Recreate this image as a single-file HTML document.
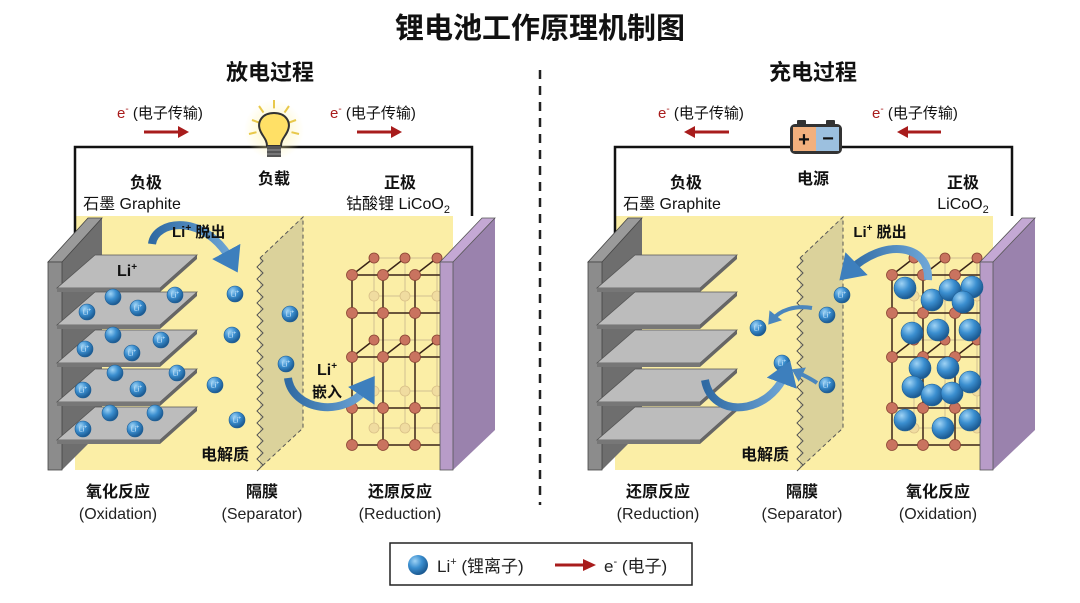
<!DOCTYPE html>
<html><head><meta charset="utf-8">
<style>
html,body{margin:0;padding:0;background:#fff;}
svg{display:block;font-family:"Liberation Sans","Noto Sans CJK SC",sans-serif;}
.b{font-weight:bold;}
</style></head>
<body>
<svg id="s" width="1080" height="603" viewBox="0 0 1080 603" xmlns="http://www.w3.org/2000/svg">
<defs>
<radialGradient id="ion" cx="35%" cy="30%" r="70%">
<stop offset="0" stop-color="#9fd3f5"/><stop offset="0.5" stop-color="#3b8fd0"/><stop offset="1" stop-color="#1b5a92"/>
</radialGradient>
<linearGradient id="arr" x1="0" y1="0" x2="1" y2="0">
<stop offset="0" stop-color="#2f6aa3"/><stop offset="1" stop-color="#6fa6d6"/>
</linearGradient>
<marker id="ah" markerWidth="4" markerHeight="4" refX="1.5" refY="2" orient="auto" markerUnits="strokeWidth">
<path d="M0,0 L3,2 L0,4 Z" fill="#3d7fbd"/>
</marker>
<marker id="ahs" markerWidth="4" markerHeight="4" refX="1.5" refY="2" orient="auto" markerUnits="strokeWidth">
<path d="M0,0 L3,2 L0,4 Z" fill="#4a86bd"/>
</marker>
<radialGradient id="glow" cx="50%" cy="50%" r="50%">
<stop offset="0" stop-color="#fff4b0" stop-opacity="0.9"/><stop offset="1" stop-color="#fff4b0" stop-opacity="0"/>
</radialGradient>
</defs>

<text x="540" y="38" font-size="29" class="b" text-anchor="middle" fill="#111">锂电池工作原理机制图</text>
<text x="270" y="80" font-size="22" class="b" text-anchor="middle" fill="#111">放电过程</text>
<text x="813" y="80" font-size="22" class="b" text-anchor="middle" fill="#111">充电过程</text>
<line x1="540" y1="70" x2="540" y2="505" stroke="#222" stroke-width="2.5" stroke-dasharray="9,7"/>

<g id="panels"></g>

<rect x="390" y="543" width="302" height="42" fill="#fff" stroke="#222" stroke-width="1.5"/>
<circle cx="418" cy="565" r="10" fill="url(#ion)"/>
<text x="437" y="572" font-size="17" fill="#222">Li<tspan font-size="11" dy="-7">+</tspan><tspan dy="7"> (锂离子)</tspan></text>
<line x1="555" y1="565" x2="585" y2="565" stroke="#a81c1c" stroke-width="3"/>
<path d="M583,559 L596,565 L583,571 Z" fill="#a81c1c"/>
<text x="604" y="572" font-size="17" fill="#222">e<tspan font-size="11" dy="-7">-</tspan><tspan dy="7"> (电子)</tspan></text>
</svg>
<script>
const NS="http://www.w3.org/2000/svg";
const P=document.getElementById('panels');
function el(t,a,parent,txt){const e=document.createElementNS(NS,t);for(const k in a)e.setAttribute(k,a[k]);if(txt!==undefined)e.innerHTML=txt;(parent||P).appendChild(e);return e;}
function ion(x,y,r,label){const g=el('g',{});el('circle',{cx:x,cy:y,r:r,fill:'url(#ion)',stroke:'#1d5d94','stroke-width':0.6},g);if(label)el('text',{x:x,y:y+2.5,'font-size':7,'text-anchor':'middle',fill:'#cfe8fb'},g,'Li<tspan font-size="5" dy="-3">+</tspan>');}
function panel(o,charge){
 const g=el('g',{transform:'translate('+o+',0)'});
 el('rect',{x:75,y:216,width:415,height:254,fill:'#fbeea6'},g);
 el('path',{d:'M75,236 L75,147 L472,147 L472,236',fill:'none',stroke:'#111','stroke-width':2.5},g);
 el('path',{d:'M62,262 L102,218 L102,430 L62,470 Z',fill:'#6e6e6e'},g);
 el('path',{d:'M48,262 L88,218 L102,218 L62,262 Z',fill:'#9a9a9a',stroke:'#444','stroke-width':0.8},g);
 el('rect',{x:48,y:262,width:14,height:208,fill:'#8c8c8c',stroke:'#444','stroke-width':0.8},g);
 const ys=[288,325,363,402,440];
 ys.forEach(y=>{
  el('path',{d:`M57,${y} L160,${y} L197,${y-33} L95,${y-33} Z`,fill:'#bcbcbc',stroke:'#555','stroke-width':0.8},g);
  el('path',{d:`M57,${y} L160,${y} L160,${y+4} L57,${y+4} Z`,fill:'#777'},g);
  el('path',{d:`M160,${y} L197,${y-33} L197,${y-29} L160,${y+4} Z`,fill:'#666'},g);
 });
 let zz='M260,258 ';for(let y=258;y<=468;y+=6){zz+=`L${y%12<6?257:263},${y+3} `;}
 el('path',{d:'M260,258 L303,217 L303,428 L260,468 Z',fill:'#d9d09a',opacity:0.95},g);
 el('path',{d:zz,fill:'none',stroke:'#555','stroke-width':1},g);
 el('path',{d:'M260,258 L303,217 L303,428 L260,468',fill:'none',stroke:'#555','stroke-width':1,'stroke-dasharray':'4,3'},g);
 const fx=[352,383,415], ry=[275,313,357,408,445], dx=22, dy=-17;
 fx.forEach(x=>{el('line',{x1:x+dx,y1:ry[0]+dy,x2:x+dx,y2:ry[4]+dy,stroke:'#e0cf99','stroke-width':1.5},g);});
 ry.forEach(y=>{el('line',{x1:352+dx,y1:y+dy,x2:440,y2:y+dy,stroke:'#e0cf99','stroke-width':1.5},g);
  fx.forEach(x=>el('circle',{cx:x+dx,cy:y+dy,r:5,fill:'#f0dca0',stroke:'#d9c088','stroke-width':0.8},g));});
 fx.forEach(x=>{el('line',{x1:x,y1:ry[0],x2:x,y2:ry[4],stroke:'#3a2418','stroke-width':1.5},g);});
 ry.forEach((y,i)=>{el('line',{x1:352,y1:y,x2:440,y2:y,stroke:'#3a2418','stroke-width':1.5},g);
  if(i==0||i==2) fx.forEach(x=>el('line',{x1:x,y1:y,x2:x+dx,y2:y+dy,stroke:'#3a2418','stroke-width':1.5},g));
  if(i==0||i==2) fx.forEach(x=>el('circle',{cx:x+dx,cy:y+dy,r:5,fill:'#c9735f',stroke:'#8a4434','stroke-width':0.8},g));
  fx.forEach(x=>el('circle',{cx:x,cy:y,r:5.5,fill:'#c9735f',stroke:'#8a4434','stroke-width':0.8},g));});
 el('rect',{x:453,y:216,width:45,height:260,fill:'#fff'},g);
 el('path',{d:'M453,262 L495,218 L495,430 L453,470 Z',fill:'#9a82ad'},g);
 el('path',{d:'M440,262 L482,218 L495,218 L453,262 Z',fill:'#c4a8d4',stroke:'#555','stroke-width':0.8},g);
 el('rect',{x:440,y:262,width:13,height:208,fill:'#b89cc8',stroke:'#555','stroke-width':0.8},g);
 return g;
}
const L=panel(0,false), R=panel(540,true);
function T(x,y,s,t,opt,parent){return el('text',Object.assign({x:x,y:y,'font-size':s,fill:'#111'},opt||{}),parent||P,t);}
const B={'font-weight':'bold','text-anchor':'middle'}, M={'text-anchor':'middle'};
const eT='<tspan fill="#a81c1c">e</tspan><tspan fill="#a81c1c" font-size="10" dy="-6">-</tspan><tspan dy="6"> (电子传输)</tspan>';
T(117,118,15,eT);T(330,118,15,eT);T(658,118,15,eT);T(872,118,15,eT);
function red(x1,x2){el('line',{x1:x1,y1:132,x2:x2,y2:132,stroke:'#a81c1c','stroke-width':3});const d=x2>x1?1:-1;el('path',{d:`M${x2},126 L${x2+d*11},132 L${x2},138 Z`,fill:'#a81c1c'});}
red(144,178);red(357,391);red(729,695);red(941,908);
el('circle',{cx:274,cy:130,r:30,fill:'url(#glow)'});
[[-22,-8],[-15,-22],[0,-28],[15,-22],[22,-8],[-25,6],[25,6]].forEach(([a,b])=>{el('line',{x1:274+a*0.7,y1:128+b*0.7,x2:274+a,y2:128+b,stroke:'#e8c84a','stroke-width':2});});
el('path',{d:'M274,113 C262,113 257,122 260,130 C262,136 267,139 267,146 L281,146 C281,139 286,136 288,130 C291,122 286,113 274,113 Z',fill:'#ffe066',stroke:'#333','stroke-width':2});
el('rect',{x:267,y:146,width:14,height:11,fill:'#555'});
el('line',{x1:267,y1:150,x2:281,y2:150,stroke:'#999'});el('line',{x1:267,y1:154,x2:281,y2:154,stroke:'#999'});
T(274,184,16,'负载',B);
T(146,188,16,'负极',B);T(132,209,16,'石墨 Graphite',M);
T(400,188,16,'正极',B);T(398,209,16,'钴酸锂 LiCoO<tspan font-size="11" dy="4">2</tspan>',M);
el('rect',{x:790,y:124,width:52,height:30,rx:5,fill:'#333'});
el('rect',{x:793,y:127,width:23,height:24,fill:'#f2b07d'});
el('rect',{x:816,y:127,width:23,height:24,fill:'#9cc0df'});
el('rect',{x:797,y:120,width:9,height:5,rx:1,fill:'#333'});el('rect',{x:826,y:120,width:9,height:5,rx:1,fill:'#333'});
T(804,146,20,'+',{'text-anchor':'middle','font-weight':'bold'});T(828,145,20,'−',{'text-anchor':'middle','font-weight':'bold'});
T(813,184,16,'电源',B);
T(686,188,16,'负极',B);T(672,209,16,'石墨 Graphite',M);
T(963,188,16,'正极',B);T(963,209,16,'LiCoO<tspan font-size="11" dy="4">2</tspan>',M);
[[113,297,0],[87,312],[138,308],[175,295],[113,335,0],[85,349],[132,353],[161,340],[115,373,0],[83,390],[138,389],[177,373],[110,413,0],[155,413,0],[83,429],[135,429],[235,294],[232,335],[215,385],[237,420],[290,314],[286,364]].forEach(p=>ion(p[0],p[1],8,p[2]!==0));
el('path',{d:'M152,244 C155,220 205,212 232,262',fill:'none',stroke:'url(#arr)','stroke-width':8,'marker-end':'url(#ah)'});
T(117,276,16,'Li<tspan font-size="10" dy="-6">+</tspan>',{'font-weight':'bold'});
T(172,237,15,'Li<tspan font-size="10" dy="-6">+</tspan><tspan dy="6"> 脱出</tspan>',{'font-weight':'bold'});
el('path',{d:'M288,378 C292,410 345,420 368,386',fill:'none',stroke:'url(#arr)','stroke-width':8,'marker-end':'url(#ah)'});
T(327,375,16,'Li<tspan font-size="10" dy="-6">+</tspan>',B);T(327,397,15,'嵌入',B);
T(225,460,16,'电解质',B);
[[842,295],[827,315],[758,328],[782,363],[827,385]].forEach(p=>ion(p[0],p[1],8,true));
[[905,288],[932,300],[950,290],[972,287],[963,302],[912,333],[938,330],[970,330],[920,368],[948,368],[913,387],[932,395],[952,393],[970,382],[905,420],[943,428],[970,420]].forEach(p=>ion(p[0],p[1],11,false));
el('path',{d:'M928,280 C930,245 885,236 848,272',fill:'none',stroke:'url(#arr)','stroke-width':8,'marker-end':'url(#ah)'});
T(880,237,15,'Li<tspan font-size="10" dy="-6">+</tspan><tspan dy="6"> 脱出</tspan>',B);
el('path',{d:'M812,308 C795,305 780,310 772,320',fill:'none',stroke:'#4a86bd','stroke-width':4,'marker-end':'url(#ahs)'});
el('path',{d:'M817,383 C810,378 803,375 797,372',fill:'none',stroke:'#4a86bd','stroke-width':4,'marker-end':'url(#ahs)'});
el('path',{d:'M705,380 C712,420 770,415 786,372',fill:'none',stroke:'url(#arr)','stroke-width':8,'marker-end':'url(#ah)'});
T(765,460,16,'电解质',B);
[[118,'氧化反应','(Oxidation)'],[262,'隔膜','(Separator)'],[400,'还原反应','(Reduction)'],[658,'还原反应','(Reduction)'],[802,'隔膜','(Separator)'],[938,'氧化反应','(Oxidation)']].forEach(a=>{T(a[0],497,16,a[1],B);T(a[0],519,16,a[2],{'text-anchor':'middle',fill:'#222'});});
</script>
</body></html>
